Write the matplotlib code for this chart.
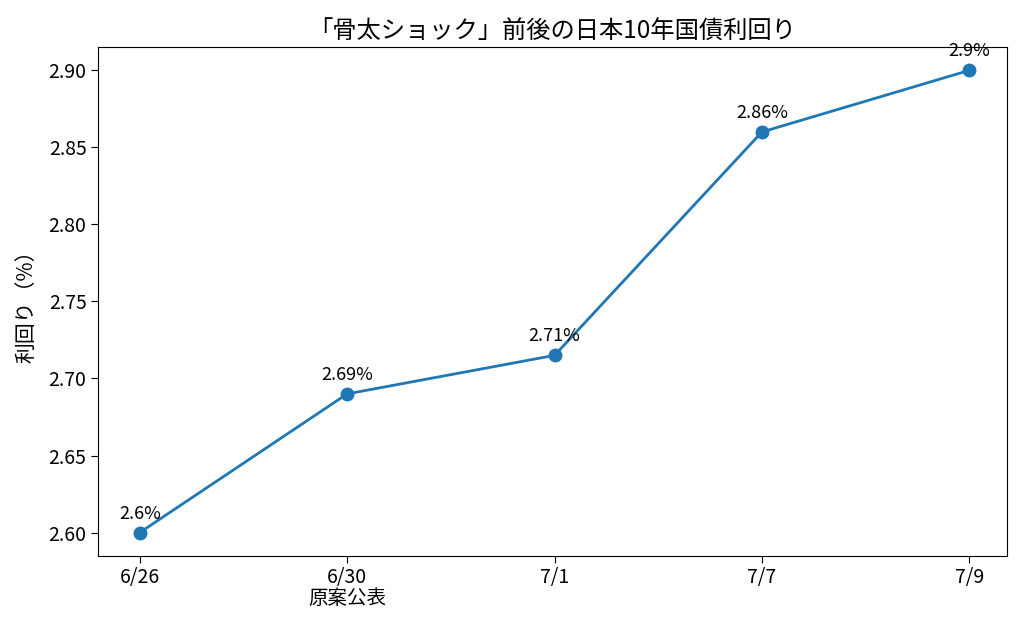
import matplotlib
matplotlib.use('Agg')
import matplotlib.pyplot as plt

plt.rcParams['font.family'] = ['Noto Sans CJK JP', 'DejaVu Sans']

dates = ['6/26', '6/30\n原案公表', '7/1', '7/7', '7/9']
yields = [2.60, 2.69, 2.715, 2.86, 2.90]
labels = ['2.6%', '2.69%', '2.71%', '2.86%', '2.9%']

fig, ax = plt.subplots(figsize=(10.24, 6.3), dpi=100)
x = range(len(dates))
ax.plot(x, yields, marker='o', markersize=9, linewidth=2, color='#1f77b4')
for xi, v, lab in zip(x, yields, labels):
    ax.annotate(lab, (xi, v), textcoords='offset points', xytext=(0, 10),
                ha='center', fontsize=13)

ax.set_xticks(list(x))
ax.set_xticklabels(dates, fontsize=14, linespacing=1.0)
ax.tick_params(axis='y', labelsize=14)
ax.tick_params(length=5)
ax.set_ylabel('利回り（%）', fontsize=15, labelpad=8)
ax.set_title('「骨太ショック」前後の日本10年国債利回り', fontsize=17.5)
ax.yaxis.set_major_formatter(matplotlib.ticker.FormatStrFormatter('%.2f'))
ax.set_xlim(-0.2, 4.18)

fig.subplots_adjust(left=0.096, right=0.983, top=0.925, bottom=0.118)
fig.savefig('out.png', dpi=100)
